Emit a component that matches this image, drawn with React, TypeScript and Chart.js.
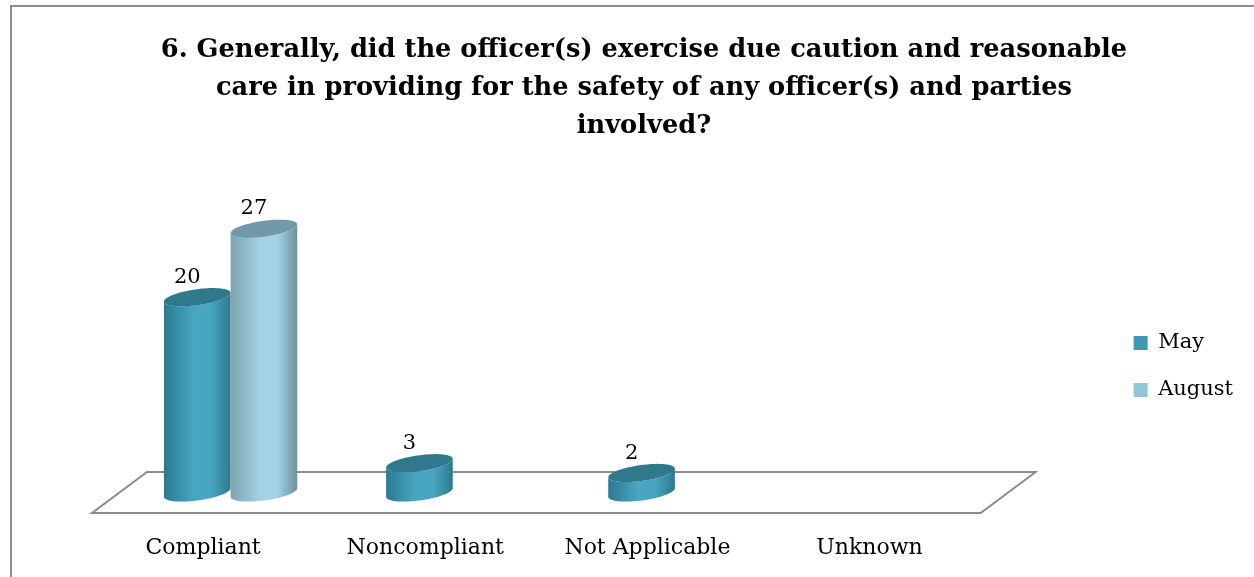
import React, { useEffect, useRef } from "react";
import { Chart, registerables } from "chart.js";

Chart.register(...registerables);

const titleLines = [
  "6. Generally, did the officer(s) exercise due caution and reasonable",
  "care in providing for the safety of any officer(s) and parties",
  "involved?",
];
const categories = ["Compliant", "Noncompliant", "Not Applicable", "Unknown"];
const mayValues = [20, 3, 2, null];
const augustValues = [27, null, null, null];
const seriesNames = ["May", "August"];

const FONT = "'DejaVu Serif', serif";
const DEPTH_X = 55;
const DEPTH_Y = -41;

const palettes = [
  { legend: "#4198b0", left: "#2a7b90", mid: "#49a6c0", right: "#2b7a8e", top: "#30788b" },
  { legend: "#93c6d6", left: "#7ea3b1", mid: "#a1d3e4", right: "#6c909f", top: "#7199a9" },
];

const floorPlugin = {
  id: "floor3d",
  beforeDatasetsDraw(chart: any) {
    const { ctx, chartArea } = chart;
    const l = chartArea.left, r = chartArea.right, b = chartArea.bottom;
    ctx.save();
    ctx.beginPath();
    ctx.moveTo(l, b);
    ctx.lineTo(r, b);
    ctx.lineTo(r + DEPTH_X, b + DEPTH_Y);
    ctx.lineTo(l + DEPTH_X, b + DEPTH_Y);
    ctx.closePath();
    ctx.fillStyle = "#ffffff";
    ctx.fill();
    ctx.strokeStyle = "#8c8c8c";
    ctx.lineWidth = 2;
    ctx.stroke();
    ctx.restore();
  },
  beforeDatasetDraw() {
    return false;
  },
  afterDatasetsDraw(chart: any) {
    const { ctx } = chart;
    const ox = DEPTH_X / 2;
    const oy = DEPTH_Y / 2;
    const K = 0.13;
    const RY = 8;
    chart.data.datasets.forEach((ds: any, di: number) => {
      const meta = chart.getDatasetMeta(di);
      const pal = palettes[di];
      meta.data.forEach((el: any, i: number) => {
        const v = ds.data[i];
        if (v === null || v === undefined) return;
        const cx = el.x + ox;
        const rx = el.width / 2;
        const topY = el.y + oy;
        const baseY = el.base + oy;
        const pt = (cy: number, t: number) => [
          cx + rx * Math.cos(t),
          cy + RY * Math.sin(t) - K * rx * Math.cos(t),
        ];
        ctx.save();
        const g = ctx.createLinearGradient(cx - rx, 0, cx + rx, 0);
        g.addColorStop(0, pal.left);
        g.addColorStop(0.45, pal.mid);
        g.addColorStop(0.7, pal.mid);
        g.addColorStop(1, pal.right);
        ctx.beginPath();
        let p = pt(topY, Math.PI);
        ctx.moveTo(p[0], p[1]);
        p = pt(baseY, Math.PI);
        ctx.lineTo(p[0], p[1]);
        const N = 40;
        for (let k = 0; k <= N; k++) {
          const t = Math.PI - (Math.PI * k) / N;
          const q = pt(baseY, t);
          ctx.lineTo(q[0], q[1]);
        }
        p = pt(topY, 0);
        ctx.lineTo(p[0], p[1]);
        for (let k = 0; k <= N; k++) {
          const t = (Math.PI * k) / N;
          const q = pt(topY, t);
          ctx.lineTo(q[0], q[1]);
        }
        ctx.closePath();
        ctx.fillStyle = g;
        ctx.fill();
        ctx.beginPath();
        for (let k = 0; k <= 2 * N; k++) {
          const t = (Math.PI * k) / N;
          const q = pt(topY, t);
          if (k === 0) ctx.moveTo(q[0], q[1]);
          else ctx.lineTo(q[0], q[1]);
        }
        ctx.closePath();
        ctx.fillStyle = pal.top;
        ctx.fill();
        ctx.fillStyle = "#000000";
        ctx.font = "21px " + FONT;
        ctx.textAlign = "center";
        ctx.textBaseline = "bottom";
        ctx.fillText(String(v), cx - 10, topY - RY - K * rx + 3);
        ctx.restore();
      });
    });
  },
};

export default function App() {
  const ref = useRef<HTMLCanvasElement | null>(null);
  useEffect(() => {
    if (!ref.current) return;
    const chart = new Chart(ref.current, {
      type: "bar",
      data: {
        labels: categories,
        datasets: [
          {
            label: seriesNames[0],
            data: mayValues,
            backgroundColor: palettes[0].legend,
          },
          {
            label: seriesNames[1],
            data: augustValues,
            backgroundColor: palettes[1].legend,
          },
        ],
      },
      options: {
        responsive: false,
        animation: false,
        devicePixelRatio: 1,
        layout: { padding: { top: 0, right: 33, bottom: 0, left: 33 } },
        datasets: { bar: { categoryPercentage: 0.6, barPercentage: 1 } },
        scales: {
          x: {
            grid: { display: false },
            border: { display: false },
            ticks: { font: { family: FONT, size: 22 }, color: "#000000", padding: 14 },
            afterFit: (s: any) => {
              s.height = 64;
            },
          },
          y: {
            min: 0,
            max: 30,
            grid: { display: false },
            border: { display: false },
            ticks: { display: false },
            afterFit: (s: any) => {
              s.width = 47;
            },
          },
          y2: {
            type: "linear",
            position: "right",
            min: 0,
            max: 30,
            grid: { display: false },
            border: { display: false },
            ticks: { display: false },
            afterFit: (s: any) => {
              s.width = 127;
            },
          },
        },
        plugins: {
          title: {
            display: true,
            text: titleLines,
            color: "#000000",
            font: { family: FONT, size: 25.7, weight: "bold", lineHeight: 38 / 25.7 },
            padding: { top: 24, bottom: 75 },
          },
          legend: {
            position: "right",
            fullSize: false,
            labels: {
              boxWidth: 14,
              boxHeight: 14,
              padding: 26,
              color: "#000000",
              font: { family: FONT, size: 21 },
            },
          },
          tooltip: { enabled: false },
        },
      },
      plugins: [floorPlugin],
    } as any);
    return () => chart.destroy();
  }, []);
  return (
    <div
      style={{
        position: "fixed",
        left: 10,
        top: 5,
        width: 1300,
        height: 620,
        border: "2px solid #8c8c8c",
        background: "#ffffff",
      }}
    >
      <canvas ref={ref} width={1264} height={570} style={{ display: "block" }} />
    </div>
  );
}
